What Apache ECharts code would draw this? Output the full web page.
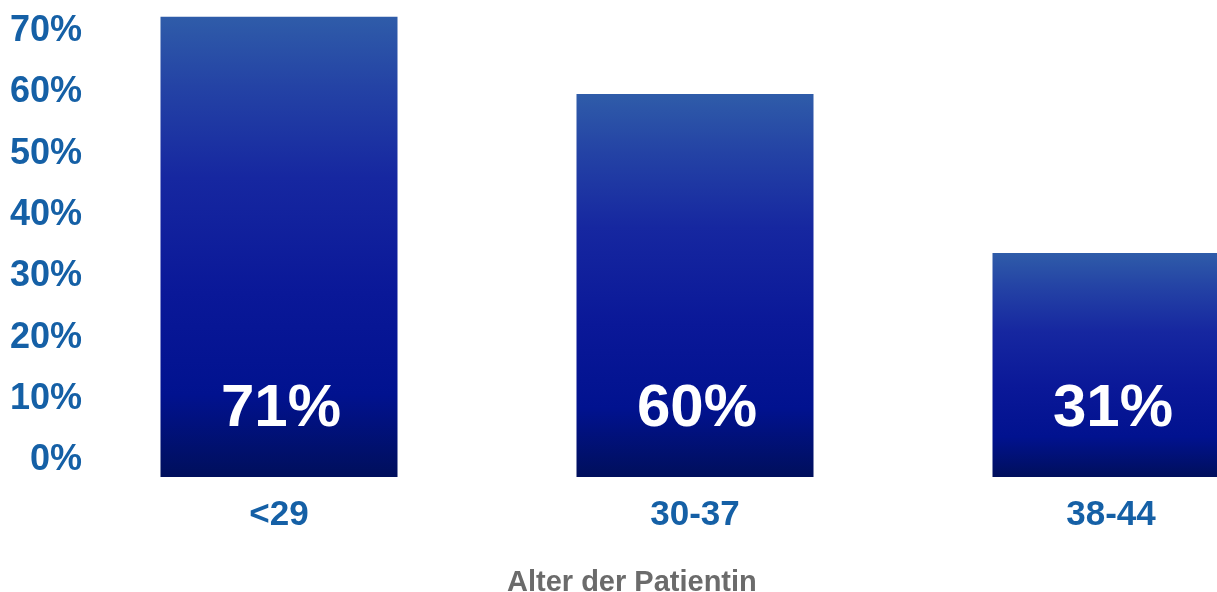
<!DOCTYPE html>
<html>
<head>
<meta charset="utf-8">
<script src="https://cdn.jsdelivr.net/npm/echarts@6/dist/echarts.min.js"></script>
<style>
html,body{margin:0;padding:0;background:#fff;overflow:hidden;}
#chart{width:1217px;height:592px;}
</style>
</head>
<body>
<div id="chart"></div>
<script>
// Data
const categories = ['<29', '30-37', '38-44'];
const barValues = [71.9, 59.3, 33.4];          // bar heights as read against the y axis
const barLabels = ['71%', '60%', '31%'];        // printed labels
const yTickValues = [0, 10, 20, 30, 40, 50, 60, 70];
const axisTitle = 'Alter der Patientin';

const FONT = '"Liberation Sans", Arial, Helvetica, sans-serif';
const BLUE = '#1560a6';

const chart = echarts.init(document.getElementById('chart'), null, {renderer: 'canvas'});
chart.setOption({
  backgroundColor: '#ffffff',
  animation: false,
  title: {
    text: axisTitle,
    left: 507,
    top: 568,
    padding: 0,
    textStyle: {color: '#6b6b6b', fontSize: 29, fontWeight: 'bold', fontFamily: FONT}
  },
  grid: {left: 71, right: -102, top: 13.1, bottom: 115, containLabel: false, outerBoundsMode: 'none'},
  xAxis: {
    type: 'category',
    data: categories,
    axisLine: {show: false},
    axisTick: {show: false},
    splitLine: {show: false},
    axisLabel: {
      color: BLUE, fontSize: 35, fontWeight: 'bold', fontFamily: FONT,
      margin: 21, interval: 0
    }
  },
  yAxis: {
    type: 'value',
    min: -3.1,
    max: 72.5,
    startValue: -3.1,
    axisLine: {show: false},
    axisTick: {show: false},
    splitLine: {show: false},
    axisLabel: {
      customValues: yTickValues,
      color: BLUE, fontSize: 36, fontWeight: 'bold', fontFamily: FONT,
      margin: -11,
      verticalAlign: 'top',
      lineHeight: 5,
      formatter: v => v + '%'
    }
  },
  series: [{
    type: 'bar',
    data: barValues,
    barWidth: 237,
    itemStyle: {
      color: new echarts.graphic.LinearGradient(0, 0, 0, 1, [
        {offset: 0, color: '#2f5ca9'},
        {offset: 0.15, color: '#2443a5'},
        {offset: 0.35, color: '#1627a0'},
        {offset: 0.6, color: '#0a1898'},
        {offset: 0.82, color: '#01128f'},
        {offset: 1, color: '#000f5c'}
      ])
    },
    label: {
      show: true,
      position: 'insideBottom',
      distance: 38,
      offset: [2, 0],
      color: '#ffffff',
      fontSize: 60,
      fontWeight: 'bold',
      fontFamily: FONT,
      formatter: p => barLabels[p.dataIndex]
    }
  }]
});
</script>
</body>
</html>
